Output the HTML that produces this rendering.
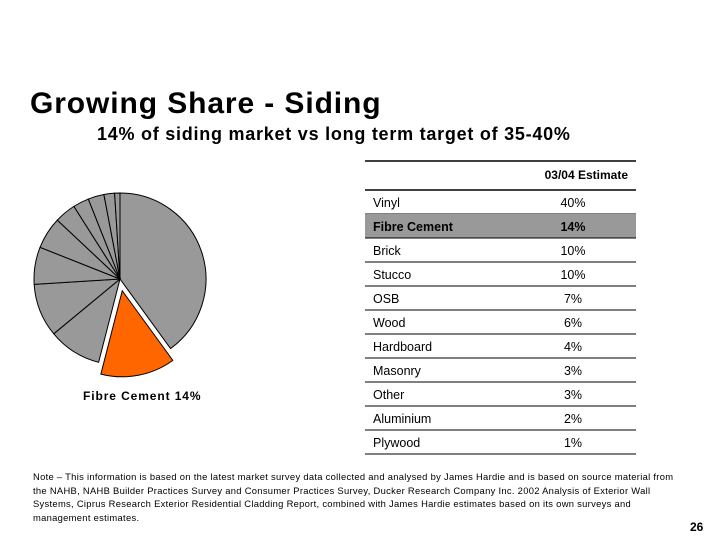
<!DOCTYPE html>
<html><head><style>
body{margin:0;width:720px;height:540px;background:#fff;position:relative;overflow:hidden;font-family:"Liberation Sans",Arial,sans-serif;}
.a{position:absolute;white-space:nowrap;}
</style></head><body>
<div class="a" style="left:30px;top:87px;font-size:30px;font-weight:bold;letter-spacing:0.9px;color:#000;">Growing Share - Siding</div>
<div class="a" style="left:97px;top:124px;font-size:18px;font-weight:bold;letter-spacing:0.75px;">14% of siding market vs long term target of 35-40%</div>
<svg id="s" width="720" height="540" style="position:absolute;left:0;top:0"></svg>
<div class="a" style="left:83px;top:389px;font-size:12px;font-weight:bold;letter-spacing:0.9px;">Fibre Cement 14%</div>
<div class="a" style="left:33px;top:470px;font-size:9.4px;line-height:13.5px;letter-spacing:0.3px;white-space:normal;width:655px;">Note – This information is based on the latest market survey data collected and analysed by James Hardie and is based on source material from the NAHB, NAHB Builder Practices Survey and Consumer Practices Survey, Ducker Research Company Inc. 2002 Analysis of Exterior Wall Systems, Ciprus Research Exterior Residential Cladding Report, combined with James Hardie estimates based on its own surveys and management estimates.</div>
<div class="a" style="left:690px;top:520px;font-size:12px;font-weight:bold;">26</div>
<script>
var s=document.getElementById('s'),h='';
var cx=120,cy=279,r=86,v=[40,14,10,10,7,6,4,3,3,2,1],a=0;
function pt(t,x,y){return [x+r*Math.sin(t),y-r*Math.cos(t)];}
v.forEach(function(p,i){var t0=a/100*2*Math.PI,t1=(a+p)/100*2*Math.PI;a+=p;
var x=cx,y=cy;if(i==1){var m=(t0+t1)/2;x+=12*Math.sin(m);y-=12*Math.cos(m);}
var p0=pt(t0,x,y),p1=pt(t1,x,y);
h+='<path d="M'+x+' '+y+'L'+p0[0]+' '+p0[1]+'A'+r+' '+r+' 0 '+(p>50?1:0)+' 1 '+p1[0]+' '+p1[1]+'Z" fill="'+(i==1?'#ff6600':'#999999')+'" stroke="#000" stroke-width="1"/>';});
var rows=[['Vinyl','40%'],['Fibre Cement','14%'],['Brick','10%'],['Stucco','10%'],['OSB','7%'],['Wood','6%'],['Hardboard','4%'],['Masonry','3%'],['Other','3%'],['Aluminium','2%'],['Plywood','1%']];
h+='<line x1="365" x2="636" y1="161" y2="161" stroke="#000" stroke-width="1.5"/>';
h+='<text x="628" y="179" text-anchor="end" font-size="12" font-weight="bold" font-family="Liberation Sans,sans-serif">03/04 Estimate</text>';
h+='<line x1="365" x2="636" y1="190" y2="190" stroke="#000" stroke-width="1.5"/>';
rows.forEach(function(rw,i){var y=190+i*24;
if(i==1)h+='<rect x="365" y="'+y+'" width="271" height="24" fill="#999"/>';
var b=i==1?' font-weight="bold"':'';
h+='<text x="373" y="'+(y+17)+'" font-size="12.5"'+b+' font-family="Liberation Sans,sans-serif">'+rw[0]+'</text>';
h+='<text x="573" y="'+(y+17)+'" text-anchor="middle" font-size="12.5"'+b+' font-family="Liberation Sans,sans-serif">'+rw[1]+'</text>';
h+='<line x1="365" x2="636" y1="'+(y+24)+'" y2="'+(y+24)+'" stroke="#000" stroke-width="1"/>';});
s.innerHTML=h;
</script>
</body></html>
